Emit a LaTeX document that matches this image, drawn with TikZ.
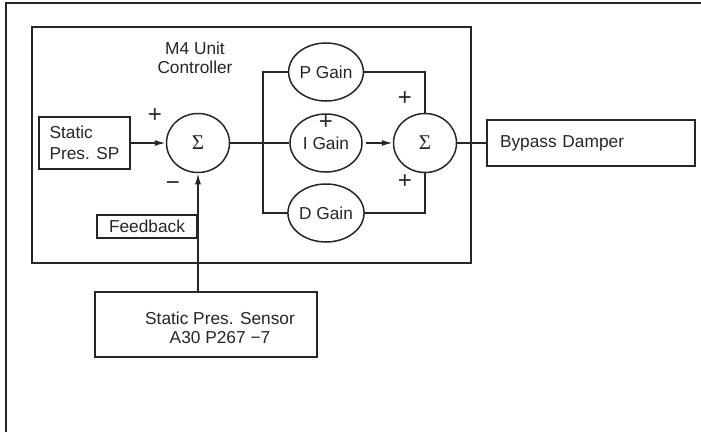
\documentclass[tikz,border=0pt]{standalone}
\usepackage{fontspec}
\setmainfont{Liberation Sans}
\newfontfamily\sigfont{Liberation Serif}
\usetikzlibrary{shapes.geometric,arrows.meta}
\begin{document}
\begin{tikzpicture}[x=1pt,y=-1pt,
  every node/.style={font=\fontsize{17.3}{19}\selectfont, inner sep=0pt, text=black!85},
  box/.style={draw=black!85, line width=1.5pt, rectangle},
  gain/.style={draw=black!85, line width=1.5pt, ellipse, minimum width=72pt, minimum height=58pt},
  sumnode/.style={draw=black!85, line width=1.5pt, ellipse, minimum width=63pt, minimum height=59pt, font=\sigfont\fontsize{21}{21}\selectfont},
  wire/.style={draw=black!85, line width=1.6pt},
  arr/.style={wire, -{Latex[length=11pt,width=6pt]}},
  sign/.style={font=\fontsize{24}{24}\selectfont}
]
\useasboundingbox (0,0) rectangle (701,432);
\draw[line width=1.6pt, black!85] (6,432) -- (6,3) -- (701,3);
\node[box, minimum width=439pt, minimum height=236pt] (unit) at (251.5,145) {};
\node[align=center] (title) at (195,58) {M4 Unit\\Controller};
\node[box, minimum width=91pt, minimum height=52pt, align=left, font=\fontsize{17.3}{21}\selectfont] (sp) at (84.5,143) {Static\\Pres. SP};
\node[sumnode] (s1) at (198,143) {Σ};
\node[gain] (pg) at (326,72) {P Gain};
\node[gain] (ig) at (326,143) {I Gain};
\node[gain] (dg) at (326,213) {D Gain};
\node[sumnode] (s2) at (425,143) {Σ};
\node[box, minimum width=208pt, minimum height=46pt, text width=182pt, align=left] (bp) at (591,143) {Bypass Damper};
\node[box, minimum width=100pt, minimum height=23pt] (fb) at (147,226.5) {Feedback};
\node[box, minimum width=222pt, minimum height=65pt] (sensor) at (206,324.5) {};
\node[align=center] (sensortxt) at (220,328) {Static Pres. Sensor\\A30 P267 −7};
\node[sign] (p1) at (155,116) {+};
\node[sign] (m1) at (173,186) {−};
\node[sign] (p2) at (326,123) {+};
\node[sign] (p3) at (405,99) {+};
\node[sign] (p4) at (405,182) {+};
\draw[arr] (sensor.north -| s1.south) -- (s1.south);
\draw[arr] (sp.east) -- (s1.west);
\draw[wire] (s1.east) -- (ig.west);
\draw[wire] (pg.west) -- ++(-25,0) |- (dg.west);
\draw[wire] (pg.east) -| (s2.north);
\draw[wire] (dg.east) -| (s2.south);
\draw[arr, shorten <=3pt] (ig.east) -- (s2.west);
\draw[wire] (s2.east) -- (bp.west);
\end{tikzpicture}
\end{document}
